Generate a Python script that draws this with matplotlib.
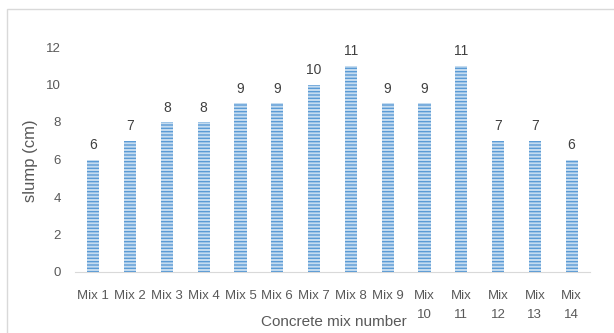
import matplotlib
matplotlib.use("Agg")
import matplotlib.pyplot as plt
from matplotlib.patches import Rectangle

categories = ["Mix 1", "Mix 2", "Mix 3", "Mix 4", "Mix 5", "Mix 6", "Mix 7",
              "Mix 8", "Mix 9", "Mix\n10", "Mix\n11", "Mix\n12", "Mix\n13", "Mix\n14"]
slump = [6, 7, 8, 8, 9, 9, 10, 11, 9, 9, 11, 7, 7, 6]
yticks = [0, 2, 4, 6, 8, 10, 12]

plt.rcParams['font.family'] = ['Liberation Sans', 'DejaVu Sans']
plt.rcParams['hatch.linewidth'] = 1.0

fig = plt.figure(figsize=(6.14, 3.33), dpi=100)
fig.patches.append(Rectangle((7/614, -0.05), 1.0, 1 - 9/333 + 0.05,
                             transform=fig.transFigure, fill=False,
                             edgecolor='#d9d9d9', linewidth=1.0))
ax = fig.add_axes([75/614, 61/333, (590-75)/614, (272-47)/333])

x = list(range(len(categories)))
bars = ax.bar(x, slump, width=0.33, color='#c5dcf0', edgecolor='#5b9bd5',
              linewidth=0, hatch='-----')
for xi, v in zip(x, slump):
    ax.text(xi, v + 0.4, str(v), ha='center', va='bottom', fontsize=10,
            color='#404040', clip_on=False)

ax.set_xlim(-0.5, len(categories) - 0.5)
ax.set_ylim(0, 12)
ax.set_yticks(yticks)
ax.set_xticks(x)
ax.set_xticklabels(categories, fontsize=9.5, color='#595959', linespacing=1.75, va='top')
ax.tick_params(axis='y', labelsize=9.5, labelcolor='#595959', length=0, pad=10)
ax.tick_params(axis='x', length=0, pad=13)
for s in ['top', 'right', 'left']:
    ax.spines[s].set_visible(False)
ax.spines['bottom'].set_color('#d9d9d9')
ax.set_ylabel('slump (cm)', fontsize=12, color='#595959', va='center')
ax.yaxis.set_label_coords((31 - 75) / 515, (272 - 161) / 225)
ax.set_xlabel('Concrete mix number', fontsize=11, color='#595959', va='center')
ax.xaxis.set_label_coords((334 - 75) / 515, -(322 - 272) / 225)

fig.savefig('out.png', dpi=100)
